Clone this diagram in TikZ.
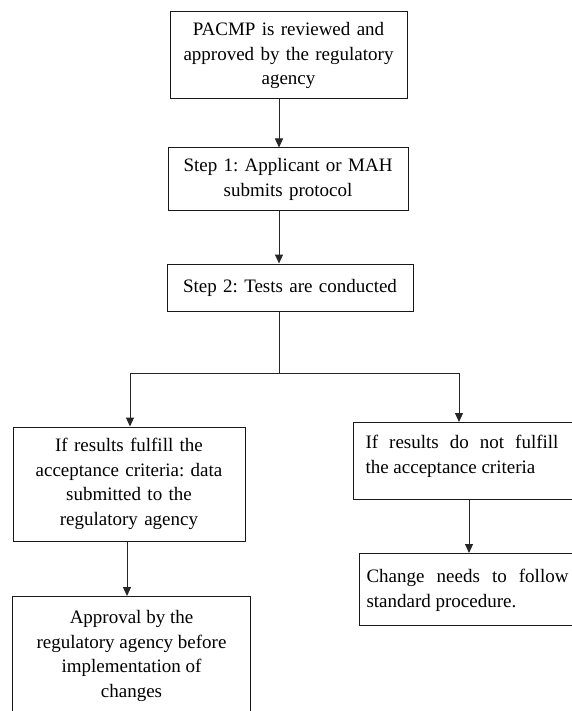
\documentclass[tikz,border=0pt]{standalone}
\usepackage{fontspec}
\setmainfont[Ligatures=NoCommon]{Liberation Serif}
\usetikzlibrary{arrows.meta}
\frenchspacing
\begin{document}
\begin{tikzpicture}[x=1pt,y=1pt,
  box/.style={draw=black!90, line width=1pt, inner sep=0pt, align=center,
    font=\fontsize{19}{24.5}\selectfont},
  tbox/.style={draw=black!90, line width=1pt, inner ysep=0pt, anchor=north west,
    font=\fontsize{19}{24.5}\selectfont},
  link/.style={draw=black!85, line width=1pt},
  arr/.style={link, -{Triangle[width=8pt,length=9pt]}}]
\useasboundingbox (0,0) rectangle (572,-711);
\clip (0,0) rectangle (572,-711);
\fill[white] (0,0) rectangle (572,-711);

\node[box, minimum width=237pt, minimum height=87pt, text width=237pt] (b1) at (288.5,-55.5)
  {PACMP is reviewed and\\approved by the regulatory\\agency};
\node[box, minimum width=240pt, minimum height=63pt, text width=240pt] (b2) at (288,-179.5)
  {Step 1: Applicant or MAH\\submits protocol};
\node[box, minimum width=246pt, minimum height=47pt, text width=246pt] (b3) at (290,-287.5)
  {Step 2: Tests are conducted};

\node[box, minimum width=232pt, minimum height=114pt, text width=232pt] (l1) at (129,-484)
  {If results fulfill the\\acceptance criteria: data\\submitted to the\\regulatory agency};
\node[tbox, inner xsep=0pt] (l2) at (12,-596)
  {\parbox[c][130pt][t]{238pt}{\centering\vspace*{14pt}Approval by the\\regulatory agency before\\implementation of\\changes}};

\node[tbox, inner xsep=12pt] (r1) at (353,-422)
  {\parbox[c][77pt][t]{215pt}{\rightskip=22pt\vspace*{13pt}If results do not fulfill\linebreak the acceptance criteria}};
\node[tbox, inner xsep=7pt] (r2) at (359,-553)
  {\parbox[c][72pt][t]{215pt}{\rightskip=13pt\vspace*{16pt}Change needs to follow\linebreak standard procedure.}};

\coordinate (j) at (279,-373);
\coordinate (jl) at (130,-373);
\coordinate (jr) at (459,-373);
\coordinate (xl) at (127,0);
\coordinate (xr) at (469,0);

\draw[arr] (b1.south -| j) -- (b2.north -| j);
\draw[arr] (b2.south -| j) -- (b3.north -| j);
\draw[link] (b3.south -| j) -- (j);
\draw[link] (jl) -- (jr);
\draw[arr] (jl) -- (l1.north -| jl);
\draw[arr] (jr) -- (r1.north -| jr);
\draw[arr] (l1.south -| xl) -- (l2.north -| xl);
\draw[arr] (r1.south -| xr) -- (r2.north -| xr);
\end{tikzpicture}
\end{document}
